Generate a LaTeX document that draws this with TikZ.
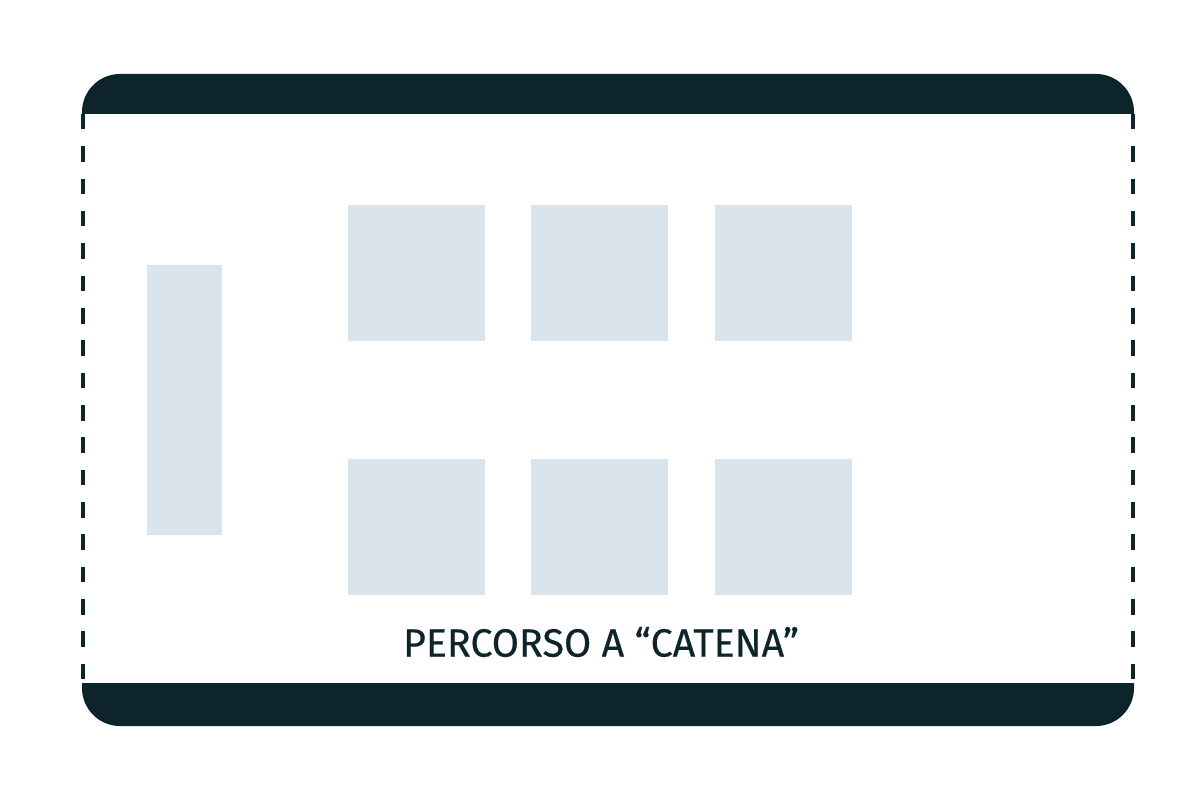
\documentclass[tikz,border=0pt]{standalone}
\usepackage{fontspec}
\setmainfont{Fira Sans}[FakeBold=0.5]
\definecolor{barra}{HTML}{0D242B}
\definecolor{banco}{HTML}{D9E4EC}
\tikzset{
    banco/.style={fill=banco, draw=none, inner sep=0pt, minimum width=3.425cm, minimum height=3.4cm},
    cattedra/.style={fill=banco, draw=none, inner sep=0pt, minimum width=1.875cm, minimum height=6.75cm},
    parete/.style={draw=barra, line width=2.6pt, dash pattern=on 11pt off 12pt},
}
\begin{document}
\begin{tikzpicture}[x=0.025cm, y=-0.025cm]
    \useasboundingbox (0,0) rectangle (1200,800);

    % barre sopra e sotto
    \fill[barra, rounded corners=0.95cm] (82,114) -- (82,74) -- (1134,74) -- (1134,114);
    \fill[barra, rounded corners=0.95cm] (82,683) -- (82,726) -- (1134,726) -- (1134,683);

    % pareti tratteggiate
    \coordinate (so) at (83,114);
    \coordinate (go) at (83,683);
    \coordinate (sd) at (1133,114);
    \coordinate (gd) at (1133,683);
    \draw[parete] (so) -- (go);
    \draw[parete] (sd) -- (gd);

    % cattedra e banchi
    \node[cattedra] (cat) at (184.5,400) {};
    \foreach \x/\n in {416.5/1, 599.5/2, 783.5/3}{
        \node[banco] (a\n) at (\x,273) {};
        \node[banco] (b\n) at (\x,527) {};
    }

    \node[text=barra, font=\fontsize{28}{33}\selectfont] (titolo) at (601,642) {PERCORSO A “CATENA”};
\end{tikzpicture}
\end{document}
